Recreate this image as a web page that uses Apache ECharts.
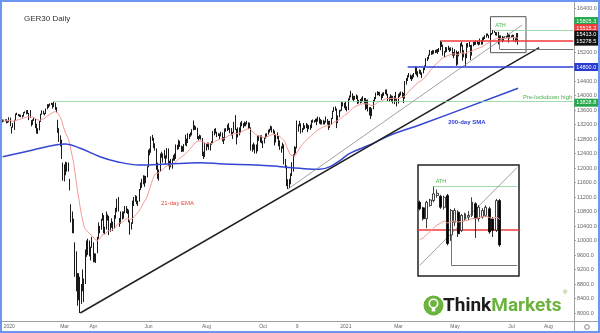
<!DOCTYPE html>
<html><head><meta charset="utf-8">
<script src="https://cdn.jsdelivr.net/npm/echarts@6/dist/echarts.min.js"></script>
<style>html,body{margin:0;padding:0;background:#fff}#c{width:600px;height:333px}#f{position:absolute;left:0;top:0;width:600px;height:333px;box-sizing:border-box;border:2px solid #6b96f2;pointer-events:none}</style>
</head><body><div id="c"></div><div id="f"></div>
<script>
// Daily GER30 candles: [open, close, low, high]
const dec2019=[[13290,13318,13260,13340],[13318,13300,13280,13330],[13300,13337,13290,13345],[13337,13249,13230,13345],[13249,13270,13240,13290]];
const jan2020=[[13270,13386,13260,13400],[13386,13219,13150,13390],[13150,13127,12950,13140],[13127,13227,13110,13240],[13227,13320,13050,13330],[13320,13495,13310,13500],[13495,13483,13460,13525],[13483,13452,13430,13490],[13452,13456,13410,13480],[13456,13432,13400,13470],[13432,13430,13390,13460],[13430,13526,13420,13540],[13526,13548,13510,13560],[13548,13556,13480,13590],[13556,13515,13490,13600],[13515,13388,13320,13520],[13388,13577,13380,13600],[13300,13204,13150,13320],[13204,13324,13190,13340],[13324,13345,13300,13380],[13345,13158,13100,13360],[13158,12982,12950,13220]];
const feb2020=[[12982,13045,12940,13100],[13045,13281,13040,13300],[13281,13478,13270,13500],[13478,13575,13470,13590],[13575,13514,13480,13580],[13514,13494,13450,13520],[13494,13627,13490,13640],[13627,13749,13620,13760],[13749,13745,13660,13760],[13745,13744,13700,13780],[13744,13783,13740,13800],[13783,13681,13640,13790],[13681,13789,13680,13829],[13789,13664,13600,13800],[13664,13579,13530,13680],[13300,13035,12970,13330],[13035,12790,12720,13100],[12790,12774,12600,12900],[12774,12367,12250,12780],[12100,11890,11650,12150]];
const mar2020=[[11890,11857,11630,12100],[11857,11985,11800,12170],[11985,12127,11900,12160],[12127,11944,11900,12150],[11700,11542,11380,11700],[10900,10625,10500,11000],[10625,10475,10200,10800],[10475,10439,10200,10600],[9900,9161,9000,9950],[9161,9232,8600,9700],[8900,8742,8200,9100],[8742,8939,8350,9100],[8939,8441,8000,9000],[8441,8610,8250,8800],[8610,8929,8600,9200],[8929,8742,8300,8950],[8742,9701,8800,9750],[9701,9874,9550,10000],[9874,10000,9600,10050],[10000,9633,9560,10000],[9633,9816,9450,9830],[9816,9936,9800,10100]];
const apr2020=[[9936,9544,9400,9950],[9544,9570,9400,9650],[9570,9525,9380,9640],[9700,10075,9650,10100],[10075,10356,10050,10500],[10356,10332,10200,10400],[10332,10564,10300,10600],[10564,10696,10550,10760],[10696,10279,10200,10700],[10279,10301,10170,10380],[10301,10625,10300,10800],[10625,10675,10550,10720],[10675,10249,10150,10680],[10249,10415,10240,10480],[10415,10513,10350,10610],[10513,10336,10260,10520],[10336,10659,10330,10700],[10659,10796,10600,10900],[10796,11107,10780,11150],[11107,10861,10800,11200]];
const may2020=[[10600,10467,10380,10620],[10467,10729,10460,10800],[10729,10607,10580,10800],[10607,10759,10600,10800],[10759,10904,10750,10950],[10904,10824,10760,10950],[10824,10819,10730,10880],[10819,10542,10500,10850],[10542,10337,10160,10550],[10337,10465,10300,10500],[10465,11058,10460,11100],[11058,11075,10950,11200],[11075,11223,11070,11250],[11223,11065,11000,11230],[11065,11074,10950,11100],[11074,11391,11070,11420],[11391,11504,11390,11600],[11504,11657,11450,11700],[11657,11781,11550,11800],[11781,11587,11480,11790]];
const jun2020=[[11600,11750,11580,11780],[11750,12021,11740,12050],[12021,12487,12020,12500],[12487,12431,12350,12540],[12431,12848,12420,12870],[12848,12820,12750,12913],[12820,12615,12550,12830],[12615,12530,12480,12680],[12530,11970,11950,12540],[11970,11949,11700,12150],[11949,11911,11650,11960],[11911,12315,11900,12400],[12315,12382,12280,12450],[12382,12281,12150,12400],[12281,12331,12260,12500],[12331,12262,12100,12350],[12262,12523,12260,12550],[12523,12093,12050,12540],[12093,12177,11950,12200],[12177,12089,12020,12250],[12089,12232,11980,12260],[12232,12311,12200,12360]];
const jul2020=[[12311,12260,12200,12400],[12260,12608,12250,12650],[12608,12528,12500,12640],[12528,12734,12520,12780],[12734,12617,12580,12750],[12617,12495,12440,12620],[12495,12489,12450,12600],[12489,12633,12450,12660],[12633,12800,12620,12920],[12800,12697,12600,12810],[12697,12931,12690,12960],[12931,12874,12800,12940],[12874,12920,12860,12980],[12920,13046,12900,13070],[13046,13171,13040,13310],[13171,13104,13050,13180],[13104,13103,13050,13150],[13103,12838,12800,13110],[12838,12839,12760,12880],[12839,12835,12800,12920],[12835,12822,12780,12900],[12822,12379,12330,12830],[12379,12313,12250,12450]];
const aug2020=[[12313,12647,12300,12700],[12647,12601,12480,12660],[12601,12660,12580,12700],[12660,12591,12500,12700],[12591,12674,12480,12690],[12674,12687,12640,12740],[12687,12947,12680,13020],[12947,13058,12900,13080],[13058,12994,12950,13100],[12994,12901,12850,13000],[12901,12920,12880,12960],[12920,12881,12800,12950],[12881,12977,12870,13000],[12977,12830,12730,12980],[12830,12765,12660,12850],[12765,13066,12760,13090],[13066,13062,13000,13100],[13062,13190,13020,13200],[13190,13096,13050,13240],[13096,13033,12960,13110],[13033,12945,12900,13100]];
const sep2020=[[12945,12974,12800,13000],[12974,13243,12970,13270],[13243,13057,13050,13460],[13057,12842,12650,13080],[12842,13100,12840,13120],[13100,12968,12900,13120],[12968,13237,12960,13260],[13237,13209,13150,13300],[13209,13203,13100,13240],[13203,13194,13150,13280],[13194,13217,13150,13260],[13217,13255,13200,13300],[13255,13208,13070,13260],[13208,13116,13080,13250],[13116,12542,12480,13120],[12542,12594,12450,12650],[12594,12643,12500,12700],[12643,12607,12400,12650],[12607,12469,12400,12650],[12469,12871,12460,12900],[12871,12825,12750,12900],[12825,12761,12700,12900]];
const oct2020=[[12761,12730,12680,12900],[12730,12689,12550,12750],[12689,12828,12680,12850],[12828,12906,12810,12950],[12906,12928,12850,12960],[12928,13042,12920,13060],[13042,13051,12980,13080],[13051,13138,13040,13170],[13138,13018,12980,13150],[13018,13028,12950,13070],[13028,12703,12620,13030],[12703,12908,12700,12930],[12908,12854,12800,12980],[12854,12736,12600,12880],[12736,12558,12500,12760],[12558,12543,12420,12600],[12543,12646,12530,12700],[12646,12178,12100,12650],[12178,12064,11990,12250],[12064,11561,11500,12070],[11561,11598,11420,11690],[11598,11556,11450,11700]];
const nov2020=[[11556,11788,11550,11850],[11788,12088,11780,12160],[12088,12324,11900,12380],[12324,12568,12320,12600],[12568,12480,12400,12580],[12550,13096,12540,13310],[13096,13163,13000,13200],[13163,13216,13150,13300],[13216,13053,12950,13230],[13053,13077,12980,13100],[13077,13139,13050,13240],[13139,13133,13080,13180],[13133,13202,13100,13240],[13202,13086,12990,13210],[13086,13137,13070,13180],[13137,13127,13050,13200],[13127,13292,13100,13320],[13292,13290,13250,13340],[13290,13286,13250,13320],[13286,13336,13270,13360],[13336,13291,13180,13370]];
const dec2020=[[13291,13382,13280,13420],[13382,13313,13220,13400],[13313,13253,13200,13350],[13253,13299,13200,13320],[13299,13271,13200,13330],[13271,13278,13200,13300],[13278,13340,13250,13420],[13340,13296,13200,13350],[13296,13114,13050,13300],[13114,13223,13110,13300],[13223,13362,13200,13380],[13362,13566,13350,13580],[13566,13667,13550,13680],[13667,13631,13580,13700],[13631,13246,13100,13640],[13246,13418,13240,13450],[13418,13587,13400,13600],[13587,13590,13560,13610],[13590,13790,13580,13830],[13790,13761,13700,13810],[13761,13719,13650,13800]];
const jan2021=[[13719,13727,13600,13830],[13727,13652,13560,13700],[13652,13892,13600,13920],[13892,13968,13870,14000],[13968,14050,13950,14130],[14050,13937,13880,14060],[13937,13926,13850,13990],[13926,13940,13880,13990],[13940,13989,13900,14030],[13989,13788,13760,14000],[13788,13848,13780,13880],[13848,13816,13780,13900],[13816,13922,13800,13940],[13922,13907,13850,13980],[13907,13874,13760,13930],[13874,13643,13600,13930],[13643,13871,13630,13880],[13871,13620,13560,13890],[13620,13666,13450,13680],[13666,13433,13350,13680]];
const feb2021=[[13433,13623,13430,13650],[13623,13836,13620,13880],[13836,13933,13820,13960],[13933,14060,13900,14080],[14060,14057,14000,14120],[14057,14060,14010,14100],[14060,14011,13980,14100],[14011,13933,13880,14040],[13933,14041,13930,14080],[14041,14050,13990,14090],[14050,14109,14040,14160],[14109,14034,14000,14170],[14034,13910,13850,14050],[13910,13887,13830,13960],[13887,13993,13880,14030],[13993,13950,13820,14000],[13950,13865,13780,13990],[13865,13976,13760,13990],[13976,13880,13860,14100],[13880,13786,13700,13930]];
const mar2021=[[13786,14012,13780,14040],[14012,14039,13960,14080],[14039,14080,14000,14110],[14080,14056,13930,14100],[14056,13920,13790,14070],[13920,14380,13910,14400],[14380,14437,14300,14480],[14437,14540,14400,14560],[14540,14569,14500,14620],[14569,14502,14450,14580],[14502,14461,14400,14550],[14461,14557,14450,14580],[14557,14596,14500,14620],[14596,14775,14590,14800],[14775,14621,14550,14790],[14621,14657,14500,14670],[14657,14662,14600,14720],[14662,14610,14570,14700],[14610,14621,14480,14640],[14621,14749,14610,14760],[14749,14817,14700,14830],[14817,15008,14810,15030],[15008,15008,14950,15060]];
const apr2021=[[15008,15107,15000,15130],[15107,15212,15100,15260],[15212,15176,15120,15230],[15176,15203,15130,15250],[15203,15234,15150,15250],[15234,15215,15170,15260],[15215,15234,15180,15270],[15234,15209,15150,15280],[15209,15255,15200,15310],[15255,15460,15250,15515],[15460,15368,15340,15480],[15368,15130,15100,15400],[15130,15196,15060,15220],[15196,15320,15180,15340],[15320,15280,15200,15330],[15280,15296,15250,15370],[15296,15250,15200,15320],[15250,15292,15230,15330],[15292,15155,15100,15320],[15155,15136,15030,15200]];
const may2021=[[15136,15236,15100,15280],[15236,14856,14820,15240],[14856,15170,14850,15200],[15170,15197,15080,15220],[15197,15400,15180,15440],[15400,15400,15350,15480],[15400,15120,14960,15400],[15120,15150,15050,15250],[15150,15037,14810,15160],[15037,15417,15030,15440],[15417,15397,15320,15450],[15397,15386,15340,15480],[15386,15114,14980,15390],[15114,15370,15100,15400],[15370,15437,15360,15480],[15437,15437,15390,15480],[15437,15465,15400,15520],[15465,15450,15410,15510],[15450,15406,15380,15480],[15406,15520,15400,15570],[15520,15421,15400,15530]];
const jun2021=[[15421,15567,15410,15600],[15567,15603,15520,15620],[15603,15633,15560,15660],[15633,15693,15600,15710],[15700,15656,15645,15710],[15662,15589,15577,15670],[15589,15700,15525,15710],[15678,15715,15670,15722],[15711,15756,15700,15805],[15745,15760,15730,15785],[15740,15666,15655,15750],[15666,15733,15650,15745],[15745,15422,15410,15756],[15480,15644,15440,15655],[15566,15644,15540,15660],[15633,15488,15466,15645],[15511,15611,15500,15620],[15589,15622,15575,15630],[15600,15611,15580,15640],[15611,15700,15600,15733],[15690,15589,15460,15700],[15589,15666,15570,15680]];
const jul2021=[[15600,15644,15590,15660],[15611,15666,15600,15680],[15656,15500,15488,15670],[15589,15511,15466,15600],[15511,15711,15500,15722],[15711,15413,15400,15722]];

// 200-day SMA: [bar index, value]
const sma200=[[0,12312],[23,12497],[40,12634],[48,12662],[59,12543],[74,12312],[87,12174],[104,12083],[125,12110],[150,12146],[168,12110],[193,12083],[211,12036],[226,11990],[241,11964],[249,12036],[257,12220],[264,12405],[279,12634],[295,12910],[317,13186],[392,14199]];

// x-axis tick labels and their bar positions
const tickLabels=['2020','Mar','Apr','Jun','Aug','Oct','9','2021','Mar','May','Jul','Aug'];
const tickIndex=[5,47,69,111,155,198,224,261,301,344,387,415];
const yTicks=[8000,8400,8800,9200,9600,10000,10400,10800,11200,11600,12000,12400,12800,13200,13600,14000,14400,14800,15200,15600,16000,16400];

// levels
const preLockdownHigh=13828.8, athLevel=15805.3, redLevel=15515.2, lastPrice=15413.0, lowLevel=15278.5, supportLevel=14800.0;
const blackTrend=[[59,8000],[408,15320]];
const grayTrend=[[217,11421],[395,15945]];
const insetGrayTrend=[[0,15276],[28,15934]];

const months=[dec2019,jan2020,feb2020,mar2020,apr2020,may2020,jun2020,jul2020,aug2020,sep2020,oct2020,nov2020,dec2020,jan2021,feb2021,mar2021,apr2021,may2021,jun2021,jul2021];
const ohlc=months.flat();
const closes=ohlc.map(d=>d[1]);
const k=2/22; let e=closes[0];
const ema=closes.map((c,i)=>i===0?e:(e=c*k+e*(1-k)));
const N=435, last=String(N-1);
const cats=Array.from({length:N},(_,i)=>String(i));
const insetN=29, insetBars=24;
const insetCats=Array.from({length:insetN},(_,i)=>String(i));

const F='Liberation Sans';
const GREEN_LINE='#86d196';
function hl(from,val,color,width,extra){return [Object.assign({coord:[String(from),val],lineStyle:{color:color,width:width,type:'solid'},label:{show:false}},extra||{}),{coord:[last,val]}];}
function box(val,bg,dy){return {coord:[last,val],symbol:'rect',symbolSize:0,label:{show:true,position:'right',distance:1,offset:[0,dy],formatter:val.toFixed(1),color:'#fff',backgroundColor:bg,fontSize:5.5,padding:[1,2,1,2],fontFamily:F}};}

const chart=echarts.init(document.getElementById('c'));
chart.setOption({
  animation:false,
  textStyle:{fontFamily:F},
  title:{text:'GER30 Daily',left:19,top:10,textStyle:{fontSize:8,fontWeight:'normal',color:'#333',fontFamily:F}},
  grid:[{left:2,right:26,top:2,bottom:12},
        {left:418,top:165,width:101,height:111,show:true,backgroundColor:'#fff',borderColor:'#222',borderWidth:1.5}],
  xAxis:[{type:'category',data:cats,gridIndex:0,boundaryGap:true,
      axisLine:{lineStyle:{color:'#a0a0a0'}},
      axisTick:{alignWithLabel:true,length:2,interval:(i)=>tickIndex.includes(i),lineStyle:{color:'#a0a0a0'}},
      axisLabel:{interval:(i)=>tickIndex.includes(i),formatter:(v,i)=>tickLabels[tickIndex.indexOf(Number(v))]||'',fontSize:5,color:'#666',margin:3,hideOverlap:false},
      splitLine:{show:false}},
    {type:'category',data:insetCats,gridIndex:1,show:false,boundaryGap:true}],
  yAxis:[{type:'value',gridIndex:0,position:'right',min:7779,max:16579,
      axisLine:{show:true,lineStyle:{color:'#a0a0a0'}},
      axisTick:{show:true,length:2,customValues:yTicks,lineStyle:{color:'#a0a0a0'}},
      axisLabel:{customValues:yTicks,formatter:(v)=>Number(v).toFixed(1),fontSize:5.5,color:'#666',margin:3},
      splitLine:{show:false}},
    {type:'value',gridIndex:1,min:15204,max:15950,show:false,splitLine:{show:false}}],
  series:[
    {type:'candlestick',xAxisIndex:0,yAxisIndex:0,data:ohlc,barWidth:1.2,
      itemStyle:{color:'#ffffff',color0:'#000',borderColor:'#000',borderColor0:'#000',borderWidth:0.9},
      markArea:{silent:true,itemStyle:{color:'rgba(0,0,0,0)',borderColor:'#555',borderWidth:1},
        data:[[{coord:['371',16174]},{coord:['398',15181]}]]},
      markLine:{silent:true,symbol:['none','none'],animation:false,
        data:[
          [{coord:[String(blackTrend[0][0]),blackTrend[0][1]],lineStyle:{color:'#222',width:1.5,type:'solid'},label:{show:false}},{coord:[String(blackTrend[1][0]),blackTrend[1][1]]}],
          [{coord:[String(grayTrend[0][0]),grayTrend[0][1]],lineStyle:{color:'#8a8a8a',width:0.8,type:'solid'},label:{show:false}},{coord:[String(grayTrend[1][0]),grayTrend[1][1]]}],
          hl(39,preLockdownHigh,GREEN_LINE,0.8,{label:{show:true,position:'insideEndTop',formatter:'Pre-lockdown high',color:'#4caf50',fontSize:6,distance:1,fontFamily:F}}),
          hl(308,supportLevel,'#2f40d8',1.5),
          hl(333,redLevel,'#f23a3a',1.5),
          hl(373,athLevel,GREEN_LINE,0.8,{label:{show:true,position:'insideStartTop',formatter:'ATH',color:'#4caf50',fontSize:5.5,distance:2,fontFamily:F}}),
          [{coord:['378',15511],lineStyle:{color:'#777',width:1,type:'solid'},label:{show:false}},{coord:['378',lowLevel]}],
          hl(378,lowLevel,'#777',1)
        ]},
      markPoint:{silent:true,symbol:'circle',symbolSize:0,
        data:[
          {coord:['133',11034],label:{show:true,formatter:'21-day EMA',color:'#e8473a',fontSize:6,fontFamily:F}},
          {coord:['353',13269],label:{show:true,formatter:'200-day SMA',color:'#2f40d8',fontSize:6,fontWeight:'bold',fontFamily:F}},
          box(athLevel,'#22a84a',-9),
          box(redLevel,'#f23a3a',-12.5),
          box(lastPrice,'#111',-9.5),
          box(lowLevel,'#111',-7.5),
          box(supportLevel,'#2a3bd4',0.5),
          box(preLockdownHigh,'#22a84a',1)
        ]}
    },
    {type:'line',xAxisIndex:0,yAxisIndex:0,data:ema,showSymbol:false,silent:true,lineStyle:{color:'#f59a92',width:1},z:3},
    {type:'line',xAxisIndex:0,yAxisIndex:0,data:sma200.map(p=>[String(p[0]),p[1]]),smooth:0.4,showSymbol:false,silent:true,lineStyle:{color:'#3446d4',width:1.5},z:3},
    {type:'candlestick',xAxisIndex:1,yAxisIndex:1,data:ohlc.slice(-insetBars),barWidth:2.4,z:5,
      itemStyle:{color:'#ffffff',color0:'#000',borderColor:'#111',borderColor0:'#000',borderWidth:0.8},
      markLine:{silent:true,symbol:['none','none'],animation:false,
        data:[
          {yAxis:redLevel,lineStyle:{color:'#f23a3a',width:1.5,type:'solid'},label:{show:false}},
          [{coord:['4',athLevel],lineStyle:{color:GREEN_LINE,width:0.8,type:'solid'},label:{show:true,position:'insideStartTop',formatter:'ATH',color:'#4caf50',fontSize:5.5,distance:2,fontFamily:F}},{coord:['28',athLevel]}],
          [{coord:[String(insetGrayTrend[0][0]),insetGrayTrend[0][1]],lineStyle:{color:'#8a8a8a',width:0.8,type:'solid'},label:{show:false}},{coord:[String(insetGrayTrend[1][0]),insetGrayTrend[1][1]]}],
          [{coord:['9',15511],lineStyle:{color:'#777',width:1,type:'solid'},label:{show:false}},{coord:['9',lowLevel]}],
          [{coord:['9',lowLevel],lineStyle:{color:'#777',width:1,type:'solid'},label:{show:false}},{coord:['28',lowLevel]}]
        ]}
    },
    {type:'line',xAxisIndex:1,yAxisIndex:1,data:ema.slice(-insetBars),showSymbol:false,silent:true,lineStyle:{color:'#f59a92',width:1},z:6}
  ],
  graphic:[
    {type:'line',shape:{x1:574.5,y1:321,x2:574.5,y2:333},style:{stroke:'#a0a0a0',lineWidth:1}},
    {type:'line',shape:{x1:574,y1:321.5,x2:600,y2:321.5},style:{stroke:'#a0a0a0',lineWidth:1}},
    {type:'circle',shape:{cx:587,cy:327,r:2.3},style:{fill:'none',stroke:'#666',lineWidth:0.8}},
    {type:'circle',shape:{cx:433.5,cy:305.5,r:10},style:{fill:'#6cb33e'}},
    {type:'circle',shape:{cx:433.5,cy:303.5,r:4.2},style:{fill:'none',stroke:'#fff',lineWidth:1.6}},
    {type:'rect',shape:{x:431.7,y:307.5,width:3.6,height:4},style:{fill:'#fff'}},
    {type:'text',style:{x:443,y:306.5,text:'{a|Think}{b|Markets}',verticalAlign:'middle',
      rich:{a:{fontFamily:'Roboto',fontWeight:'bold',fontSize:19,fill:'#1b1b1b'},b:{fontFamily:'Roboto',fontWeight:'bold',fontSize:19,fill:'#6cb33e'}}}},
    {type:'text',style:{x:563,y:292,text:'®',fontSize:6,fill:'#6cb33e',verticalAlign:'middle'}}
  ]
});
</script></body></html>
